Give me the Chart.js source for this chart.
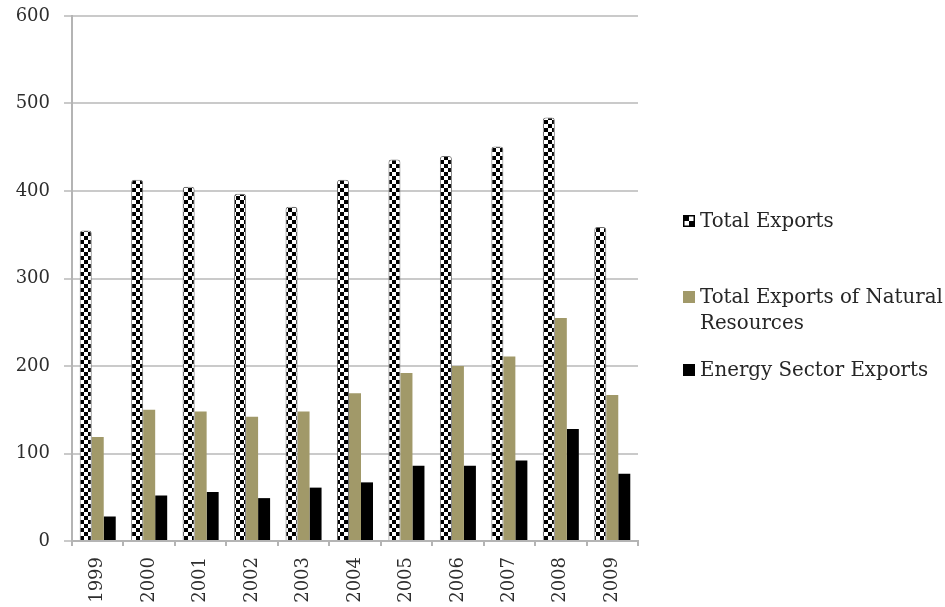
<!DOCTYPE html>
<html>
<head>
<meta charset="utf-8">
<script src="https://cdn.jsdelivr.net/npm/chart.js@4/dist/chart.umd.min.js"></script>
<style>
  html, body { margin: 0; padding: 0; background: #ffffff; }
  #wrap { width: 945px; height: 607px; }
</style>
</head>
<body>
<div id="wrap"><canvas id="chart" width="945" height="607"></canvas></div>
<script>
// Export values by year
const years = ['1999', '2000', '2001', '2002', '2003', '2004', '2005', '2006', '2007', '2008', '2009'];
const totalExports = [355, 413, 405, 397, 382, 413, 436, 440, 451, 484, 359];
const naturalResourceExports = [119, 150, 148, 142, 148, 169, 192, 200, 211, 255, 167];
const energySectorExports = [28, 52, 56, 49, 61, 67, 86, 86, 92, 128, 77];
const yTickValues = [0, 100, 200, 300, 400, 500, 600];

const seriesNames = ['Total Exports', 'Total Exports of Natural Resources', 'Energy Sector Exports'];
const legendLines = [['Total Exports'], ['Total Exports of Natural', 'Resources'], ['Energy Sector Exports']];

const TAN = '#a19969';
const FONT = "'DejaVu Serif', 'Liberation Serif', serif";

// Black and white checkerboard fill
function checkerPattern(size) {
  const c = document.createElement('canvas');
  c.width = size * 2; c.height = size * 2;
  const g = c.getContext('2d');
  g.fillStyle = '#ffffff';
  g.fillRect(0, 0, size * 2, size * 2);
  g.fillStyle = '#000000';
  g.fillRect(0, 0, size, size);
  g.fillRect(size, size, size, size);
  return g.createPattern(c, 'repeat');
}

const ctx = document.getElementById('chart').getContext('2d');
const checker = checkerPattern(4);

// Legend drawn to the right of the plot area
const sideLegend = {
  id: 'sideLegend',
  afterDraw(chart) {
    const c = chart.ctx;
    const area = chart.chartArea;
    const x0 = area.right + 45;
    const centers = [area.top + 205, area.top + 281, area.top + 354];
    const fills = [null, TAN, '#000000'];
    c.save();
    c.font = '19.8px ' + FONT;
    c.textBaseline = 'middle';
    legendLines.forEach((lines, i) => {
      const yc = centers[i];
      // swatch
      if (i === 0) {
        c.fillStyle = '#ffffff';
        c.fillRect(x0, yc - 6, 12, 12);
        c.fillStyle = '#000000';
        c.fillRect(x0, yc - 6, 6, 6);
        c.fillRect(x0 + 6, yc, 6, 6);
        c.strokeStyle = '#000000';
        c.lineWidth = 1.5;
        c.strokeRect(x0 + 0.75, yc - 5.25, 10.5, 10.5);
      } else {
        c.fillStyle = fills[i];
        c.fillRect(x0, yc - 6, 12, 12);
      }
      c.fillStyle = '#262626';
      lines.forEach((t, k) => c.fillText(t, x0 + 17, yc + 1 + k * 26));
    });
    c.restore();
  }
};

Chart.defaults.font.family = FONT;
Chart.defaults.color = '#2e2e2e';

new Chart(ctx, {
  type: 'bar',
  data: {
    labels: years,
    datasets: [
      {
        label: seriesNames[0],
        data: totalExports,
        backgroundColor: checker,
        borderColor: '#6e6e6e',
        borderWidth: 1,
        borderRadius: { topLeft: 3, topRight: 3 },
        borderSkipped: 'bottom'
      },
      {
        label: seriesNames[1],
        data: naturalResourceExports,
        backgroundColor: TAN,
        borderWidth: 0
      },
      {
        label: seriesNames[2],
        data: energySectorExports,
        backgroundColor: '#000000',
        borderWidth: 0
      }
    ]
  },
  options: {
    responsive: false,
    animation: false,
    devicePixelRatio: 1,
    layout: { padding: { top: 16, right: 307, left: 0, bottom: 0 } },
    datasets: { bar: { categoryPercentage: 0.7, barPercentage: 1.0 } },
    plugins: {
      legend: { display: false },
      tooltip: { enabled: false }
    },
    scales: {
      x: {
        afterFit(scale) { scale.height = 66; },
        grid: {
          offset: true,
          drawOnChartArea: false,
          drawTicks: true,
          tickLength: 5,
          color: '#b4b4b4',
          lineWidth: 2
        },
        border: { display: true, color: '#b4b4b4', width: 2 },
        ticks: {
          minRotation: 90,
          maxRotation: 90,
          autoSkip: false,
          padding: 11,
          color: '#2e2e2e',
          font: { size: 18, family: FONT }
        }
      },
      y: {
        min: 0,
        max: 600,
        afterFit(scale) {
          scale.width = 72;
          scale.paddingTop = 0;
          scale.paddingBottom = 0;
        },
        afterBuildTicks(scale) { scale.ticks = yTickValues.map(v => ({ value: v })); },
        grid: {
          color: '#cacaca',
          lineWidth: 2,
          tickLength: 8
        },
        border: { display: true, color: '#b4b4b4', width: 2 },
        ticks: {
          padding: 14,
          color: '#2e2e2e',
          font: { size: 18, family: FONT }
        }
      }
    }
  },
  plugins: [sideLegend]
});
</script>
</body>
</html>
